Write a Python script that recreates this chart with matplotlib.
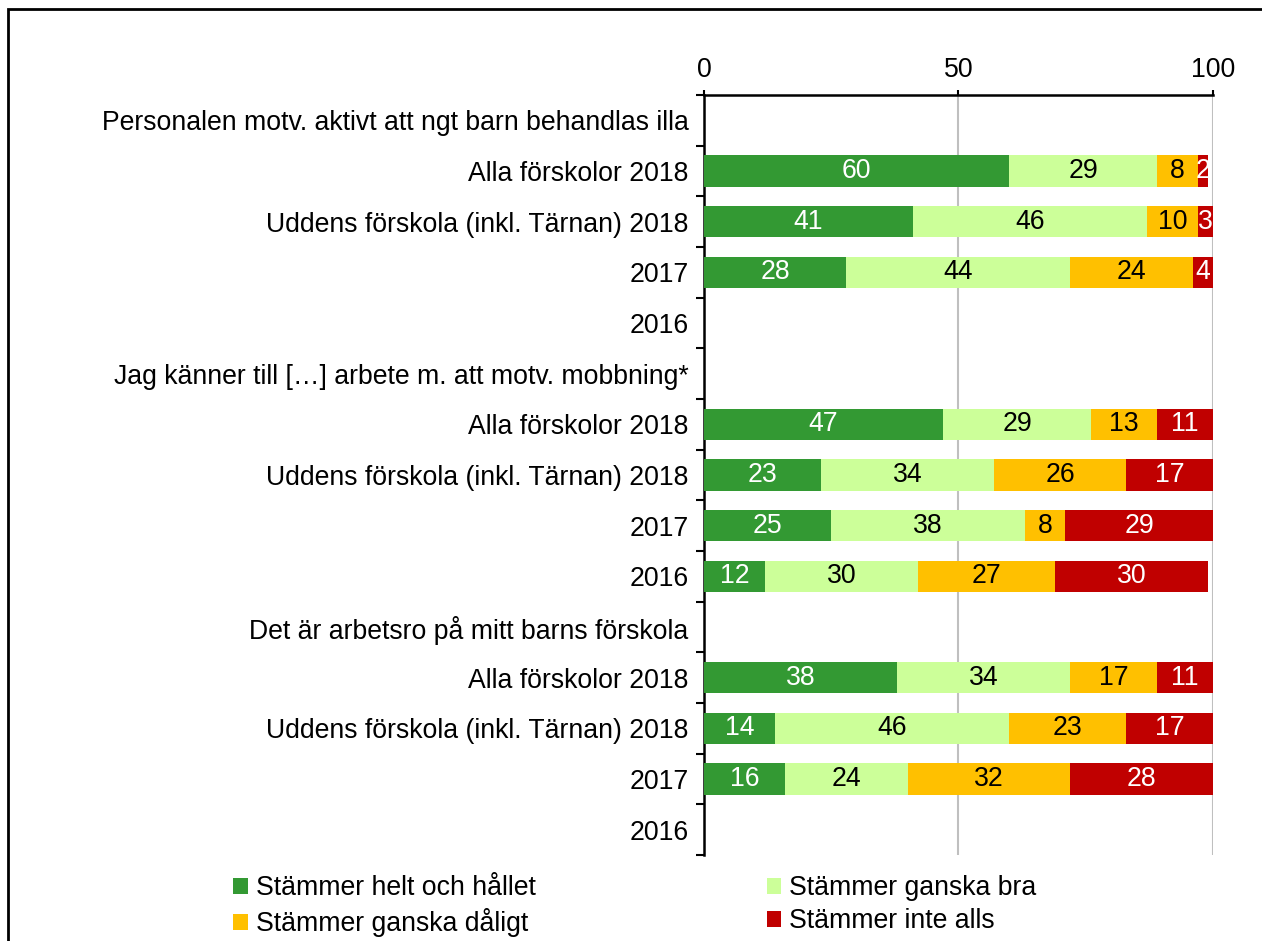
#!/usr/bin/env python3
"""Stacked horizontal bars: survey answers per question and preschool."""

import numpy as np
import matplotlib
matplotlib.use("Agg")
import matplotlib.pyplot as plt
from matplotlib.patches import Patch, Rectangle

plt.rcParams["font.family"] = ["Liberation Sans", "DejaVu Sans"]

rows = [
    "Personalen motv. aktivt att ngt barn behandlas illa",
    "Alla förskolor 2018",
    "Uddens förskola (inkl. Tärnan) 2018",
    "2017",
    "2016",
    "Jag känner till […] arbete m. att motv. mobbning*",
    "Alla förskolor 2018",
    "Uddens förskola (inkl. Tärnan) 2018",
    "2017",
    "2016",
    "Det är arbetsro på mitt barns förskola",
    "Alla förskolor 2018",
    "Uddens förskola (inkl. Tärnan) 2018",
    "2017",
    "2016",
]

# nan = no bar in that row
helt = [np.nan, 60, 41, 28, np.nan, np.nan, 47, 23, 25, 12, np.nan, 38, 14, 16, np.nan]
ganska_bra = [np.nan, 29, 46, 44, np.nan, np.nan, 29, 34, 38, 30, np.nan, 34, 46, 24, np.nan]
ganska_daligt = [np.nan, 8, 10, 24, np.nan, np.nan, 13, 26, 8, 27, np.nan, 17, 23, 32, np.nan]
inte_alls = [np.nan, 2, 3, 4, np.nan, np.nan, 11, 17, 29, 30, np.nan, 11, 17, 28, np.nan]

series = [
    ("Stämmer helt och hållet", helt, "#339933", "white"),
    ("Stämmer ganska bra", ganska_bra, "#CCFF99", "black"),
    ("Stämmer ganska dåligt", ganska_daligt, "#FFC000", "black"),
    ("Stämmer inte alls", inte_alls, "#C00000", "white"),
]

FS = 19.2

fig = plt.figure(figsize=(12.62, 9.41), dpi=100)
ax = fig.add_axes([0.5578, 0.0914, 0.9612 - 0.5578, 0.899 - 0.0914])

y = np.arange(len(rows))
left = np.zeros(len(rows))
for name, vals, color, tcolor in series:
    vals = np.array(vals, dtype=float)
    w = np.nan_to_num(vals)
    ax.barh(y, w, left=left, height=0.62, color=color, zorder=3)
    for yi, v, l in zip(y, vals, left):
        if not np.isnan(v):
            ax.text(l + v / 2, yi, f"{v:.0f}", ha="center", va="center",
                    color=tcolor, fontsize=FS, zorder=4)
    left += w

ax.set_xlim(0, 100)
ax.set_ylim(len(rows) - 0.5, -0.5)
ax.xaxis.tick_top()
ax.set_xticks([0, 50, 100])
ax.tick_params(axis="x", length=3.6, width=1.5, labelsize=FS, pad=5, color="black")
ax.grid(axis="x", color="#BFBFBF", linewidth=1.5, zorder=0)

ax.set_yticks(y)
ax.set_yticklabels(rows)
ax.set_yticks(np.arange(-0.5, len(rows)), minor=True)
ax.tick_params(axis="y", which="major", length=0, labelsize=FS, pad=11)
ax.tick_params(axis="y", which="minor", length=5.5, width=1.5)

for s in ["right", "bottom"]:
    ax.spines[s].set_visible(False)
for s in ["left", "top"]:
    ax.spines[s].set_linewidth(1.8)

# legend fills column by column, so order it to read row by row
order = [0, 2, 1, 3]
handles = [Patch(facecolor=series[i][2], edgecolor="none") for i in order]
labels = [series[i][0] for i in order]
fig.legend(handles, labels, ncol=2, frameon=False, fontsize=FS,
           loc="upper left", bbox_to_anchor=(233 / 1262, 1 - 875 / 941),
           handlelength=0.55, handleheight=0.55, handletextpad=0.3,
           labelspacing=0.28, columnspacing=8.67, borderaxespad=0, borderpad=0)

# outer frame of the original chart area
fig.patches.append(Rectangle((8 / 1262, -0.1), 1.2, 1.1 - 9 / 941,
                             transform=fig.transFigure, fill=False,
                             edgecolor="black", linewidth=2))

fig.savefig("out.png", dpi=100)
